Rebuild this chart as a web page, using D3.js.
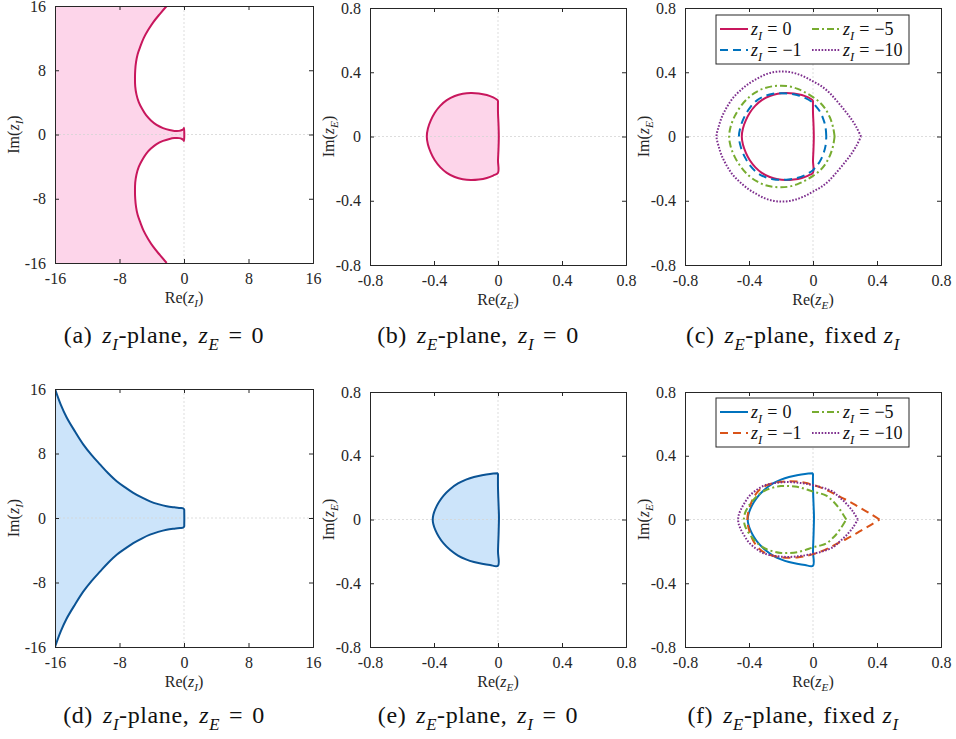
<!DOCTYPE html>
<html>
<head>
<meta charset="utf-8">
<script src="https://cdn.jsdelivr.net/npm/d3@7"></script>
<style>
  body { margin: 0; background: #fff; }
  svg { display: block; }
</style>
</head>
<body>
<script>
// ---- data ----
// boundary of stability region, z_I plane (z_E = 0), top row
var boundaryA = [
  [-2.15, 16], [-3.0, 15], [-3.8, 14], [-4.45, 13], [-5.0, 12], [-5.4, 11], [-5.75, 10], [-5.95, 9],
  [-6.05, 8], [-6.08, 7], [-6.05, 6], [-5.9, 5], [-5.6, 4], [-5.2, 3.2], [-4.7, 2.4], [-4.1, 1.75],
  [-3.4, 1.2], [-2.6, 0.8], [-1.8, 0.55], [-1.2, 0.45], [-0.6, 0.45], [-0.25, 0.56], [-0.05, 0.7], [0, 0.8],
  [0, -0.8], [-0.05, -0.7], [-0.25, -0.56], [-0.6, -0.45], [-1.2, -0.45], [-1.8, -0.55], [-2.6, -0.8],
  [-3.4, -1.2], [-4.1, -1.75], [-4.7, -2.4], [-5.2, -3.2], [-5.6, -4], [-5.9, -5], [-6.05, -6], [-6.08, -7],
  [-6.05, -8], [-5.95, -9], [-5.75, -10], [-5.4, -11], [-5.0, -12], [-4.45, -13], [-3.8, -14], [-3.0, -15],
  [-2.15, -16]
];

// z_E plane, z_I = 0, top row
var boundaryB = [
  [0, 0.225], [-0.03, 0.243], [-0.07, 0.258], [-0.12, 0.268], [-0.17, 0.271], [-0.22, 0.266],
  [-0.27, 0.252], [-0.32, 0.226], [-0.36, 0.192], [-0.395, 0.148], [-0.42, 0.1], [-0.438, 0.05], [-0.445, 0],
  [-0.438, -0.05], [-0.42, -0.1], [-0.395, -0.148], [-0.36, -0.192], [-0.32, -0.226], [-0.27, -0.252],
  [-0.22, -0.266], [-0.17, -0.271], [-0.12, -0.268], [-0.07, -0.258], [-0.03, -0.243], [0, -0.225],
  [0, -0.15], [0.003, -0.08], [0.005, 0], [0.003, 0.08], [0, 0.15], [0, 0.225]
];

// top row, fixed z_I curves
var topMinus1 = [
  [0.083, 0], [0.078, 0.06], [0.062, 0.115], [0.04, 0.16], [0.012, 0.195], [0, 0.21], [-0.05, 0.24],
  [-0.1, 0.258], [-0.15, 0.267], [-0.2, 0.27], [-0.25, 0.266], [-0.3, 0.252], [-0.35, 0.225], [-0.39, 0.185],
  [-0.425, 0.13], [-0.45, 0.07], [-0.463, 0], [-0.45, -0.07], [-0.425, -0.13], [-0.39, -0.185], [-0.35, -0.225],
  [-0.3, -0.252], [-0.25, -0.266], [-0.2, -0.27], [-0.15, -0.267], [-0.1, -0.258], [-0.05, -0.24], [0, -0.21],
  [0.012, -0.195], [0.04, -0.16], [0.062, -0.115], [0.078, -0.06], [0.083, 0]
];
var topMinus5 = [
  [0.135, 0], [0.125, 0.06], [0.105, 0.12], [0.075, 0.175], [0.04, 0.215], [0, 0.245], [-0.05, 0.275],
  [-0.1, 0.298], [-0.15, 0.312], [-0.2, 0.316], [-0.25, 0.313], [-0.3, 0.302], [-0.35, 0.28], [-0.4, 0.245],
  [-0.45, 0.19], [-0.49, 0.125], [-0.515, 0.06], [-0.524, 0], [-0.515, -0.06], [-0.49, -0.125], [-0.45, -0.19],
  [-0.4, -0.245], [-0.35, -0.28], [-0.3, -0.302], [-0.25, -0.313], [-0.2, -0.316], [-0.15, -0.312],
  [-0.1, -0.298], [-0.05, -0.275], [0, -0.245], [0.04, -0.215], [0.075, -0.175], [0.105, -0.12],
  [0.125, -0.06], [0.135, 0]
];
var topMinus10 = [
  [0.3, 0], [0.27, 0.06], [0.235, 0.115], [0.2, 0.16], [0.15, 0.22], [0.1, 0.275], [0.05, 0.315], [0, 0.343],
  [-0.05, 0.37], [-0.1, 0.39], [-0.15, 0.402], [-0.2, 0.405], [-0.25, 0.4], [-0.3, 0.385], [-0.35, 0.36],
  [-0.4, 0.33], [-0.45, 0.29], [-0.5, 0.24], [-0.54, 0.18], [-0.57, 0.12], [-0.59, 0.06], [-0.603, 0],
  [-0.59, -0.06], [-0.57, -0.12], [-0.54, -0.18], [-0.5, -0.24], [-0.45, -0.29], [-0.4, -0.33], [-0.35, -0.36],
  [-0.3, -0.385], [-0.25, -0.4], [-0.2, -0.405], [-0.15, -0.402], [-0.1, -0.39], [-0.05, -0.37], [0, -0.343],
  [0.05, -0.315], [0.1, -0.275], [0.15, -0.22], [0.2, -0.16], [0.235, -0.115], [0.27, -0.06], [0.3, 0]
];

// bottom row, z_I plane
var boundaryD = [
  [-16, 16], [-15.3, 14.1], [-14.55, 12.47], [-13.5, 10.7], [-12.5, 9.14], [-11.45, 7.8], [-10.42, 6.65],
  [-9.4, 5.55], [-8.35, 4.56], [-7.3, 3.8], [-6.29, 3.12], [-5.25, 2.55], [-4.22, 2.07], [-3.2, 1.72],
  [-2.15, 1.45], [-1.2, 1.32], [-0.5, 1.25], [-0.1, 1.2], [0.02, 1.05], [0.03, 0.8], [0.04, 0],
  [0.03, -0.8], [0.02, -1.05], [-0.1, -1.2], [-0.5, -1.25], [-1.2, -1.32], [-2.15, -1.45], [-3.2, -1.72],
  [-4.22, -2.07], [-5.25, -2.55], [-6.29, -3.12], [-7.3, -3.8], [-8.35, -4.56], [-9.4, -5.55], [-10.42, -6.65],
  [-11.45, -7.8], [-12.5, -9.14], [-13.5, -10.7], [-14.55, -12.47], [-15.3, -14.1], [-16, -16]
];

// bottom row, z_E plane, z_I = 0
var boundaryE = [
  [0, 0.29], [-0.05, 0.286], [-0.1, 0.278], [-0.15, 0.267], [-0.2, 0.25], [-0.25, 0.226], [-0.3, 0.19],
  [-0.34, 0.15], [-0.37, 0.108], [-0.392, 0.065], [-0.404, 0.03], [-0.408, 0], [-0.404, -0.03],
  [-0.392, -0.065], [-0.37, -0.108], [-0.34, -0.15], [-0.3, -0.19], [-0.25, -0.226], [-0.2, -0.25],
  [-0.15, -0.267], [-0.1, -0.278], [-0.05, -0.286], [0, -0.29], [0, -0.2], [0.004, -0.08], [0.006, 0.02],
  [0.004, 0.08], [0, 0.2], [0, 0.29]
];

// bottom row, fixed z_I curves
var botMinus1 = [
  [0.416, 0], [0.36, 0.035], [0.3, 0.07], [0.25, 0.1], [0.2, 0.127], [0.15, 0.152], [0.1, 0.178], [0.05, 0.2],
  [0, 0.217], [-0.05, 0.23], [-0.1, 0.238], [-0.15, 0.24], [-0.2, 0.237], [-0.25, 0.228], [-0.3, 0.21],
  [-0.34, 0.18], [-0.37, 0.14], [-0.39, 0.095], [-0.405, 0.045], [-0.41, 0], [-0.405, -0.045], [-0.39, -0.095],
  [-0.37, -0.14], [-0.34, -0.18], [-0.3, -0.21], [-0.25, -0.228], [-0.2, -0.237], [-0.15, -0.24], [-0.1, -0.238],
  [-0.05, -0.23], [0, -0.217], [0.05, -0.2], [0.1, -0.178], [0.15, -0.152], [0.2, -0.127], [0.25, -0.1],
  [0.3, -0.07], [0.36, -0.035], [0.416, 0]
];
var botMinus5 = [
  [0.208, 0], [0.17, 0.06], [0.13, 0.11], [0.083, 0.15], [0.04, 0.165], [0, 0.175], [-0.05, 0.192],
  [-0.1, 0.205], [-0.15, 0.21], [-0.2, 0.21], [-0.25, 0.2], [-0.3, 0.182], [-0.34, 0.155], [-0.375, 0.12],
  [-0.405, 0.08], [-0.425, 0.04], [-0.432, 0], [-0.425, -0.04], [-0.405, -0.08], [-0.375, -0.12],
  [-0.34, -0.155], [-0.3, -0.182], [-0.25, -0.2], [-0.2, -0.21], [-0.15, -0.21], [-0.1, -0.205],
  [-0.05, -0.192], [0, -0.175], [0.04, -0.165], [0.083, -0.15], [0.13, -0.11], [0.17, -0.06], [0.208, 0]
];
var botMinus10 = [
  [0.28, 0], [0.25, 0.05], [0.208, 0.1], [0.165, 0.14], [0.125, 0.174], [0.06, 0.2], [0, 0.215],
  [-0.05, 0.225], [-0.104, 0.232], [-0.16, 0.235], [-0.21, 0.232], [-0.26, 0.225], [-0.312, 0.21],
  [-0.36, 0.18], [-0.4, 0.145], [-0.43, 0.1], [-0.452, 0.06], [-0.465, 0.025], [-0.468, 0], [-0.465, -0.025],
  [-0.452, -0.06], [-0.43, -0.1], [-0.4, -0.145], [-0.36, -0.18], [-0.312, -0.21], [-0.26, -0.225],
  [-0.21, -0.232], [-0.16, -0.235], [-0.104, -0.232], [-0.05, -0.225], [0, -0.215], [0.06, -0.2],
  [0.125, -0.174], [0.165, -0.14], [0.208, -0.1], [0.25, -0.05], [0.28, 0]
];

var ticksI = [-16, -8, 0, 8, 16];
var ticksE = [-0.8, -0.4, 0, 0.4, 0.8];
var legendValues = ["0", "\u22121", "\u22125", "\u221210"];
var captionLetters = ["a", "b", "c", "d", "e", "f"];

// ---- layout ----
var svgWidth = 956;
var svgHeight = 739;
var FONT = '"Liberation Serif", "Times New Roman", serif';
var AXIS_COLOR = "#262626";

var svg = d3.select("body")
  .append("svg")
  .attr("width", svgWidth)
  .attr("height", svgHeight);

// write mixed upright / italic / subscript text as tspans
function mathText(textSel, parts, size) {
  var shift = 0;
  parts.forEach(function(p) {
    var t = textSel.append("tspan").text(p.t);
    if (p.i) t.attr("font-style", "italic");
    var dy = 0;
    if (p.sub) {
      t.attr("font-size", size * 0.7);
      dy = size * 0.28 - shift;
      shift = size * 0.28;
    } else if (shift) {
      dy = -shift;
      shift = 0;
    }
    if (dy) t.attr("dy", dy);
    if (p.dx) t.attr("dx", p.dx);
  });
}

function zParts(letter) {
  return [{t: "z", i: true}, {t: letter, i: true, sub: true}];
}

function eqParts(value, gap) {
  return [{t: "=", dx: gap}, {t: value, dx: gap}];
}

function drawPanel(p) {
  var w = p.right - p.left, h = p.bottom - p.top;
  var x = d3.scaleLinear().domain([p.ticks[0], p.ticks[4]]).range([0, w]);
  var y = d3.scaleLinear().domain([p.ticks[0], p.ticks[4]]).range([h, 0]);

  var g = svg.append("g").attr("transform", `translate(${p.left}, ${p.top})`);

  var clipId = "clip" + p.id;
  g.append("clipPath").attr("id", clipId)
    .append("rect").attr("width", w).attr("height", h);

  var plot = g.append("g").attr("clip-path", `url(#${clipId})`);

  var line = d3.line()
    .x(d => x(d[0]))
    .y(d => y(d[1]))
    .curve(d3.curveCatmullRom.alpha(0.5));

  // filled region
  if (p.fill) {
    plot.append("path")
      .attr("d", line(p.fill.points) + "Z")
      .attr("fill", p.fill.color)
      .attr("stroke", "none");
  }

  // zero grid lines
  plot.append("line")
    .attr("x1", x(0)).attr("x2", x(0)).attr("y1", 0).attr("y2", h)
    .attr("stroke", "#d4d4d4").attr("stroke-width", 0.8).attr("stroke-dasharray", "2,2");
  plot.append("line")
    .attr("x1", 0).attr("x2", w).attr("y1", y(0)).attr("y2", y(0))
    .attr("stroke", "#d4d4d4").attr("stroke-width", 0.8).attr("stroke-dasharray", "2,2");

  // curves
  p.curves.forEach(function(c) {
    plot.append("path")
      .attr("d", line(c.points))
      .attr("fill", "none")
      .attr("stroke", c.color)
      .attr("stroke-width", 2)
      .attr("stroke-dasharray", c.dash || null)
      .attr("stroke-linejoin", "round");
  });

  // axes with inward ticks on all sides
  var fmt = v => String(v);
  var bottomAxis = d3.axisBottom(x).tickValues(p.ticks).tickSize(-4).tickPadding(10).tickFormat(fmt);
  var leftAxis = d3.axisLeft(y).tickValues(p.ticks).tickSize(-4).tickPadding(9).tickFormat(fmt);
  var topAxis = d3.axisTop(x).tickValues(p.ticks).tickSize(-4).tickFormat("");
  var rightAxis = d3.axisRight(y).tickValues(p.ticks).tickSize(-4).tickFormat("");

  [
    g.append("g").attr("transform", `translate(0, ${h})`).call(bottomAxis),
    g.append("g").call(leftAxis),
    g.append("g").call(topAxis),
    g.append("g").attr("transform", `translate(${w}, 0)`).call(rightAxis)
  ].forEach(function(a) {
    a.attr("font-family", null).attr("font-size", null);
    a.select(".domain").attr("stroke", AXIS_COLOR).attr("stroke-width", 1);
    a.selectAll(".tick line").attr("stroke", AXIS_COLOR);
    a.selectAll(".tick text")
      .attr("fill", AXIS_COLOR)
      .style("font-family", FONT)
      .style("font-size", "16px");
  });

  // axis labels
  var xl = g.append("text")
    .attr("x", w / 2).attr("y", h + 40)
    .attr("text-anchor", "middle")
    .style("font-family", FONT).style("font-size", "16px").attr("fill", AXIS_COLOR);
  mathText(xl, [{t: "Re("}].concat(zParts(p.v), [{t: ")"}]), 16);

  var yl = g.append("text")
    .attr("transform", `translate(-36, ${h / 2}) rotate(-90)`)
    .attr("text-anchor", "middle")
    .style("font-family", FONT).style("font-size", "16px").attr("fill", AXIS_COLOR);
  mathText(yl, [{t: "Im("}].concat(zParts(p.v), [{t: ")"}]), 16);

  // legend
  if (p.legend) {
    var lg = g.append("g").attr("transform", `translate(${p.legend.x}, ${p.legend.y})`);
    lg.append("rect")
      .attr("width", 193).attr("height", 49)
      .attr("fill", "#fff").attr("stroke", AXIS_COLOR).attr("stroke-width", 1);
    p.curves.forEach(function(c, i) {
      var col = Math.floor(i / 2), row = i % 2;
      var lx = 4 + col * 92, ly = 14 + row * 21;
      lg.append("line")
        .attr("x1", lx).attr("x2", lx + 28).attr("y1", ly).attr("y2", ly)
        .attr("stroke", c.color).attr("stroke-width", 2)
        .attr("stroke-dasharray", c.dash || null);
      var t = lg.append("text")
        .attr("x", lx + 31).attr("y", ly + 6)
        .style("font-family", FONT).style("font-size", "18px").attr("fill", "#111");
      mathText(t, zParts("I").concat(eqParts(legendValues[i], 5)), 18);
    });
  }

  // caption
  var cap = svg.append("text")
    .attr("x", p.left + w / 2 - 20).attr("y", p.bottom + p.capOffset)
    .attr("text-anchor", "middle")
    .style("font-family", FONT).style("font-size", "24px")
    .style("letter-spacing", "0.6px").attr("fill", "#111");
  var capParts = [{t: "(" + captionLetters[p.id] + ")"}].concat(
    [{t: "z", i: true, dx: 10}, {t: p.v, i: true, sub: true}, {t: "-plane,"}]);
  if (p.fixed) capParts = capParts.concat([{t: "fixed", dx: 9}, {t: "z", i: true, dx: 7}, {t: "I", i: true, sub: true}]);
  else capParts = capParts.concat([{t: "z", i: true, dx: 10}, {t: p.v === "I" ? "E" : "I", i: true, sub: true}],
    eqParts("0", 9));
  mathText(cap, capParts, 24);
}

var pink = "#C8175D", pinkFill = "#FDD5EA";
var navy = "#0B5394", navyFill = "#CCE4FA";
var blue = "#0072BD", orange = "#D95319", green = "#77AC30", purple = "#7E2F8E";
var dashed = "8,5", dashDot = "7,3,2,3", dotted = "1.6,1.6";

var panels = [
  {id: 0, left: 55, right: 313, top: 6, bottom: 263, ticks: ticksI, v: "I", capOffset: 80,
   fill: {points: [[-16, 16]].concat(boundaryA, [[-16, -16]]), color: pinkFill},
   curves: [{points: boundaryA, color: pink}]},
  {id: 1, left: 370, right: 626, top: 8, bottom: 265, ticks: ticksE, v: "E", capOffset: 78,
   fill: {points: boundaryB, color: pinkFill},
   curves: [{points: boundaryB, color: pink}]},
  {id: 2, left: 685, right: 941, top: 8, bottom: 265, ticks: ticksE, v: "E", capOffset: 78, fixed: true,
   legend: {x: 31, y: 7},
   curves: [
     {points: boundaryB, color: pink},
     {points: topMinus1, color: blue, dash: dashed},
     {points: topMinus5, color: green, dash: dashDot},
     {points: topMinus10, color: purple, dash: dotted}
   ]},
  {id: 3, left: 55, right: 313, top: 389, bottom: 647, ticks: ticksI, v: "I", capOffset: 76,
   fill: {points: boundaryD, color: navyFill},
   curves: [{points: boundaryD, color: navy}]},
  {id: 4, left: 370, right: 626, top: 392, bottom: 647, ticks: ticksE, v: "E", capOffset: 76,
   fill: {points: boundaryE, color: navyFill},
   curves: [{points: boundaryE, color: navy}]},
  {id: 5, left: 685, right: 941, top: 392, bottom: 647, ticks: ticksE, v: "E", capOffset: 76, fixed: true,
   legend: {x: 31, y: 6},
   curves: [
     {points: boundaryE, color: blue},
     {points: botMinus1, color: orange, dash: dashed},
     {points: botMinus5, color: green, dash: dashDot},
     {points: botMinus10, color: purple, dash: dotted}
   ]}
];

panels.forEach(drawPanel);
</script>
</body>
</html>
